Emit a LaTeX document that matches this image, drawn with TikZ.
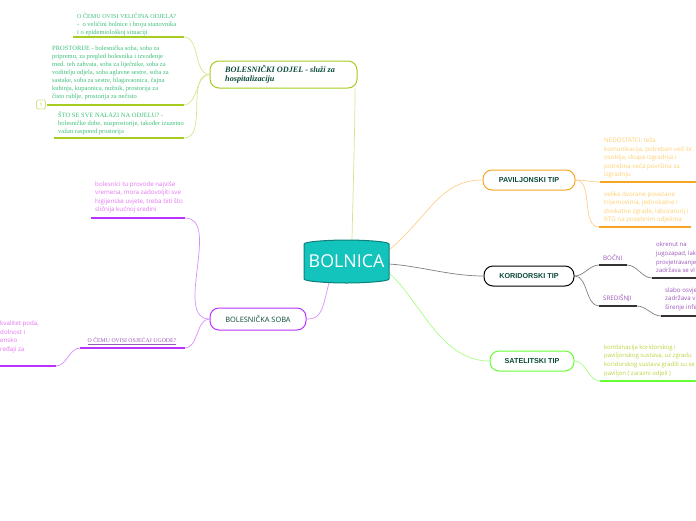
\documentclass[tikz,border=0pt]{standalone}
\usepackage{fontspec}
\setmainfont{Liberation Serif}
\setsansfont{Open Sans}
\newfontfamily\headfont{Liberation Sans}
\definecolor{cteal}{HTML}{12C4BC}
\definecolor{cteald}{HTML}{0E7F7A}
\definecolor{cdark}{HTML}{0B4A3A}
\definecolor{cgrn}{HTML}{A5CC1F}
\definecolor{cgrnl}{HTML}{D3E68F}
\definecolor{cgtxt}{HTML}{3CBF7A}
\definecolor{corg}{HTML}{F5A623}
\definecolor{corgl}{HTML}{FFD08A}
\definecolor{cotxt}{HTML}{FFCF70}
\definecolor{cblk}{HTML}{333333}
\definecolor{cblkl}{HTML}{808080}
\definecolor{cptxt}{HTML}{9A55BB}
\definecolor{clim}{HTML}{66FF33}
\definecolor{climl}{HTML}{A6FF85}
\definecolor{cytxt}{HTML}{BBD23F}
\definecolor{cpur}{HTML}{B833FF}
\definecolor{cpurl}{HTML}{D68FFF}
\definecolor{cpink}{HTML}{E473F2}
\tikzset{
  x=1pt,y=-1pt,
  topic/.style={draw,line width=1pt,rounded corners=9pt,fill=white,inner sep=0pt,text=cdark,align=center},
  under/.style={line width=2pt},
  link/.style={line width=0.7pt},
  hcurve/.style={out=180,in=0,looseness=0.9},
  rcurve/.style={out=0,in=180,looseness=0.9},
  leaf/.style={inner sep=0pt,align=left,anchor=west,font=\sffamily\fontsize{6.2}{8.5}\selectfont},
  tightleaf/.style={leaf,font=\sffamily\fontsize{6}{8.7}\selectfont},
  serifleaf/.style={inner sep=0pt,align=left,anchor=west,text=cgtxt,font=\fontsize{6.5}{8.1}\selectfont},
}
\begin{document}
\begin{tikzpicture}
\useasboundingbox (0,0) rectangle (696,520);
\clip (0,0) rectangle (696,520);
% centre node
\node[inner sep=0pt,minimum width=85pt,minimum height=43pt] (bolnica) at (346.5,261.5) {};
% topic nodes
\node[topic,draw=cgrn,minimum width=147pt,minimum height=27pt] (odjel) at (283.5,74.5) {};
\node[inner sep=0pt,anchor=west,align=left,text=cdark,font=\bfseries\itshape\fontsize{8.2}{9.4}\selectfont] (odjelt) at (225,74.5) {BOLESNIČKI ODJEL - služi za\\hospitalizaciju};
\node[topic,draw=corg,minimum width=92pt,minimum height=20pt,font=\headfont\bfseries\fontsize{7.2}{9}\selectfont] (pav) at (529,180) {PAVILJONSKI TIP};
\node[topic,draw=black,minimum width=90pt,minimum height=20pt,font=\headfont\bfseries\fontsize{7.2}{9}\selectfont] (kor) at (529,276) {KORIDORSKI TIP};
\node[topic,draw=clim,minimum width=84pt,minimum height=20pt,font=\headfont\bfseries\fontsize{7.2}{9}\selectfont] (sat) at (532,361) {SATELITSKI TIP};
\node[topic,draw=cpur,minimum width=96pt,minimum height=22pt,font=\sffamily\fontsize{7.4}{9}\selectfont] (soba) at (258,319) {BOLESNIČKA SOBA};
% end points of the underlines
\foreach \n/\xa/\xb/\yy in {
  a/73/184/37, b/47/184/105, c/54/184/138,
  d/600/696/182, e/599/691/227,
  f/599/627/265, g/652/696/278, h/599/637/306, i/661/696/316,
  j/600/696/381,
  k/91/185/218, l/80/185/348, m/-2/56/366}{
  \coordinate (\n L) at (\xa,\yy);
  \coordinate (\n R) at (\xb,\yy);
}
\coordinate (cTop) at (352,240);
\coordinate (cNE) at (389,250);
\coordinate (cE) at (389,264);
\coordinate (cSE) at (389,273);
\coordinate (cS) at (329,283);
% connectors
\draw[link,cgrnl] (cTop) .. controls (353,190) and (355,130) .. (odjel.south -| 355,88);
\draw[link,corgl] (cNE) .. controls (430,215) and (440,180) .. (pav.west);
\draw[link,cblkl] (cE) .. controls (420,266) and (450,276) .. (kor.west);
\draw[link,climl] (cSE) .. controls (420,300) and (440,361) .. (sat.west);
\draw[link,cpurl] (cS) .. controls (322,310) and (322,319) .. (soba.east);
\draw[link,cgrnl] (odjel.west) to[hcurve] (aR);
\draw[link,cgrnl] (odjel.west) to[hcurve] (bR);
\draw[link,cgrnl] (odjel.west) to[hcurve] (cR);
\draw[link,corgl] (pav.east) to[rcurve] (dL);
\draw[link,corgl] (pav.east) to[rcurve] (eL);
\draw[link,cblkl] (kor.east) to[rcurve] (fL);
\draw[link,cblkl] (kor.east) to[rcurve] (hL);
\draw[link,cblkl] (fR) to[rcurve] (gL);
\draw[link,cblkl] (hR) to[rcurve] (iL);
\draw[link,climl] (sat.east) to[rcurve] (jL);
\draw[link,cpurl] (soba.west) to[hcurve] (kR);
\draw[link,cpurl] (soba.west) to[hcurve] (lR);
\draw[link,cpurl] (lL) to[hcurve] (mR);
% underlines
\foreach \n in {a,b,c}{\draw[under,cgrn] (\n L) -- (\n R);}
\foreach \n in {d,e}{\draw[under,corg] (\n L) -- (\n R);}
\foreach \n in {f,g,h,i}{\draw[under,cblk] (\n L) -- (\n R);}
\draw[under,clim] (jL) -- (jR);
\foreach \n in {k,l,m}{\draw[under,cpur] (\n L) -- (\n R);}
% centre shape
\draw[fill=cteal,draw=cteald,line width=1pt]
  (304,244) .. controls (304,241.5) and (330,240) .. (346.5,240)
  .. controls (363,240) and (389,241.5) .. (389,244) -- (389,279)
  .. controls (389,281.5) and (363,283) .. (346.5,283)
  .. controls (330,283) and (304,281.5) .. (304,279) -- cycle;
\node[inner sep=0pt,text=white,font=\sffamily\fontsize{17.8}{20}\selectfont] (bolnicat) at (346.5,261.5) {BOLNICA};
% leaf texts
\node[serifleaf] (t1) at (77,24.5) {{\fontsize{6.1}{8.1}\selectfont O ČEMU OVISI VELIČINA ODJELA?}\\-\ \ o veličini bolnice i broju stanovnika\\i o epidemiološkoj situaciji};
\node[serifleaf] (t2) at (52,73) {PROSTORIJE - bolesnička soba, soba za\\pripremu, za pregled bolesnika i izvođenje\\med. teh zahvata, soba za liječnike, soba za\\voditelju odjela, soba aglavne sestre, soba za\\sastake, soba za sestre, blagavaonica, čajna\\kuhinja, kupaonica, nužnik, prostorija za\\čisto rublje, prostorija za nečisto};
\node[serifleaf] (t3) at (58,123.5) {ŠTO SE SVE NALAZI NA ODJELU? -\\bolesničke dobe, nusprostorije, također izuzetno\\važan raspored prostorija};
\node[leaf,text=cotxt] (t4) at (604,158) {NEDOSTATCI: teža\\komunikacija, potreban veći br.\\osoblja, skupa izgradnja i\\potrebna veća površina za\\izgradnju};
\node[leaf,text=cotxt] (t5) at (604,207.5) {velike dvorane povezane\\trijemovima, jednokatne i\\dvokatne zgrade, laboratorij i\\RTG na posebnim odjelima};
\node[leaf,text=cptxt] (t6) at (603,258) {BOČNI};
\node[tightleaf,text=cptxt] (t7) at (656,257.5) {okrenut na\\jugozapad, lak\\provjetravanje\\zadržava se vl};
\node[leaf,text=cptxt] (t8) at (603,298) {SREDIŠNJI};
\node[leaf,text=cptxt] (t9) at (665,299) {slabo osvje\\zadržava vl\\širenje infe};
\node[tightleaf,text=cytxt] (t10) at (604,360.5) {kombinacija koridorskog i\\paviljonskog sustava, uz zgradu\\koridorskog sustava gradili su se\\paviljon ( zarazni odjeli )};
\node[leaf,text=cpink] (t11) at (95,197.5) {bolesnici tu provode najviše\\vremena, mora zadovoljiti sve\\higijenske uvjete, treba biti što\\sličnija kućnoj sredini};
\node[inner sep=0pt,text=cptxt,font=\fontsize{5.8}{7}\selectfont] (t12) at (132,341) {\underline{O ČEMU OVISI OSJEĆAJ UGODE?}};
\node[leaf,text=cpink] (t13) at (0,337) {kvalitet poda,\\dolnost i\\ensko\\ređaji za};
% small marker
\node[draw=cgrnl,line width=0.8pt,rounded corners=1.5pt,minimum width=9pt,minimum height=9pt,inner sep=0pt,fill=white,text=cgrn,font=\sffamily\fontsize{5}{5}\selectfont] (mark) at (41,104.5) {1};
\end{tikzpicture}
\end{document}
